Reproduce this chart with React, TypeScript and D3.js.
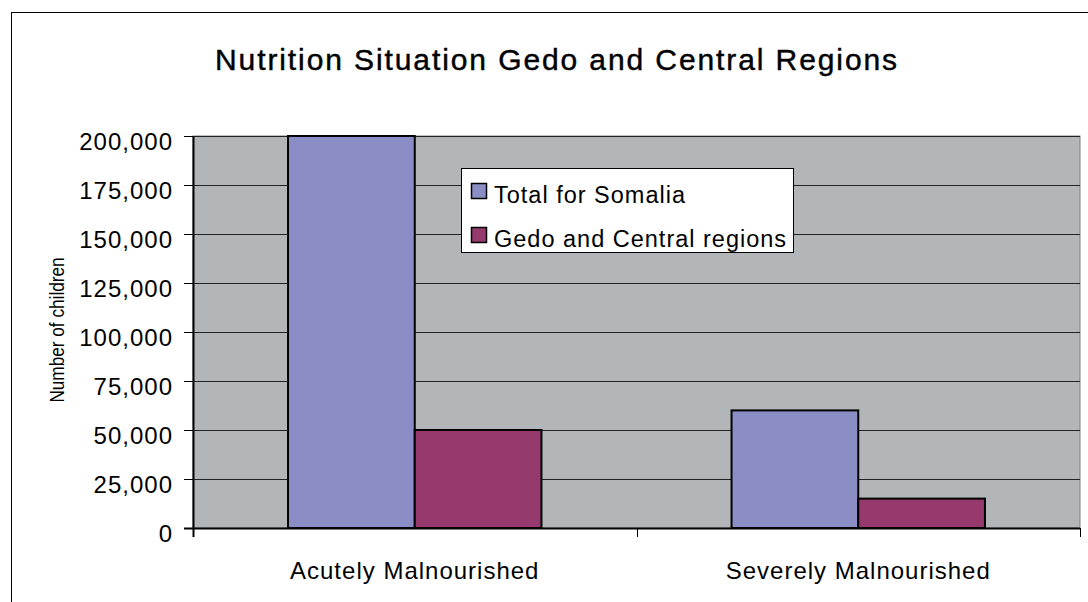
import React from "react";
import * as d3 from "d3";

const categories = ["Acutely Malnourished", "Severely Malnourished"];
const seriesNames = ["Total for Somalia", "Gedo and Central regions"];
const totalSomalia = [200000, 60000];
const gedoCentral = [50000, 15000];
const yTicks = [0, 25000, 50000, 75000, 100000, 125000, 150000, 175000, 200000];
const seriesColors = ["#8b8ec5", "#963a6e"];

const W = 1088;
const H = 602;
const margin = { top: 136, right: 8, bottom: 74, left: 193 };
const font = "'Liberation Sans', Arial, sans-serif";

export default function App() {
  const plotW = W - margin.left - margin.right;
  const plotH = H - margin.top - margin.bottom;
  const bottom = margin.top + plotH;
  const right = margin.left + plotW;

  const x0 = d3.scaleBand<string>().domain(categories).range([margin.left, right]);
  const bw = x0.bandwidth();
  // Excel-style 150% gap width: band = 3.5 bars
  const barW = bw / 3.5;
  const x1 = d3
    .scaleBand<string>()
    .domain(seriesNames)
    .range([barW * 0.75, bw - barW * 0.75]);

  const y = d3.scaleLinear().domain([0, 200000]).range([bottom, margin.top]);
  const fmt = d3.format(",");

  const series = [totalSomalia, gedoCentral];

  return (
    <div style={{ position: "fixed", left: 0, top: 0 }}>
      <svg width={W} height={H} style={{ display: "block", background: "#fff" }}>
        {/* outer chart border */}
        <rect x={11.5} y={12.5} width={W} height={H} fill="none" stroke="#000" strokeWidth={1} />

        {/* title */}
        <text
          x={557}
          y={70}
          textAnchor="middle"
          fontFamily={font}
          fontSize={30}
          letterSpacing={1.9}
          fill="#000"
          stroke="#000"
          strokeWidth={0.45}
        >
          Nutrition Situation Gedo and Central Regions
        </text>

        {/* plot area */}
        <rect x={margin.left} y={margin.top} width={plotW} height={plotH} fill="#b3b6b9" stroke="#808080" />

        {/* gridlines */}
        {yTicks.slice(1).map(t => (
          <line
            key={t}
            x1={margin.left}
            x2={right}
            y1={Math.round(y(t)) + 0.5}
            y2={Math.round(y(t)) + 0.5}
            stroke="#222"
            strokeWidth={1}
          />
        ))}

        {/* bars */}
        {categories.map((c, i) => (
          <g key={c} transform={`translate(${x0(c)},0)`}>
            {seriesNames.map((s, j) => (
              <rect
                key={s}
                x={x1(s)}
                y={y(series[j][i])}
                width={x1.bandwidth()}
                height={bottom - y(series[j][i])}
                fill={seriesColors[j]}
                stroke="#000"
                strokeWidth={2}
              />
            ))}
          </g>
        ))}

        {/* y axis */}
        <line x1={margin.left + 0.5} x2={margin.left + 0.5} y1={margin.top} y2={bottom + 9} stroke="#000" strokeWidth={2} />
        {yTicks.map(t => (
          <g key={t}>
            <line x1={margin.left - 9} x2={margin.left} y1={Math.round(y(t)) + 0.5} y2={Math.round(y(t)) + 0.5} stroke="#000" />
            <text
              x={173}
              y={y(t) + 14}
              textAnchor="end"
              fontFamily={font}
              fontSize={24}
              letterSpacing={1}
              fill="#000"
            >
              {fmt(t)}
            </text>
          </g>
        ))}

        {/* x axis */}
        <line x1={margin.left - 9} x2={right} y1={bottom + 0.5} y2={bottom + 0.5} stroke="#000" strokeWidth={2} />
        {[...categories.map(c => x0(c) as number), right].map((v, i) => (
          <line key={i} x1={Math.round(v) + 0.5} x2={Math.round(v) + 0.5} y1={bottom} y2={bottom + 9} stroke="#000" />
        ))}
        {categories.map(c => (
          <text
            key={c}
            x={(x0(c) as number) + bw / 2}
            y={579}
            textAnchor="middle"
            fontFamily={font}
            fontSize={24}
            letterSpacing={1}
            fill="#000"
          >
            {c}
          </text>
        ))}

        {/* y axis title */}
        <text
          transform={`translate(64,${(margin.top + bottom) / 2 - 2}) rotate(-90) scale(0.86,1)`}
          textAnchor="middle"
          fontFamily={font}
          fontSize={20}
          fill="#000"
        >
          Number of children
        </text>

        {/* legend */}
        <g transform="translate(461,168)">
          <rect x={0.5} y={0.5} width={332} height={84} fill="#fff" stroke="#000" />
          {seriesNames.map((s, j) => (
            <g key={s} transform={`translate(10,${15 + j * 44})`}>
              <rect x={0.5} y={0.5} width={15} height={15} fill={seriesColors[j]} stroke="#000" strokeWidth={1.5} />
              <text x={23} y={20} fontFamily={font} fontSize={23.5} letterSpacing={1} fill="#000">
                {s}
              </text>
            </g>
          ))}
        </g>
      </svg>
    </div>
  );
}
